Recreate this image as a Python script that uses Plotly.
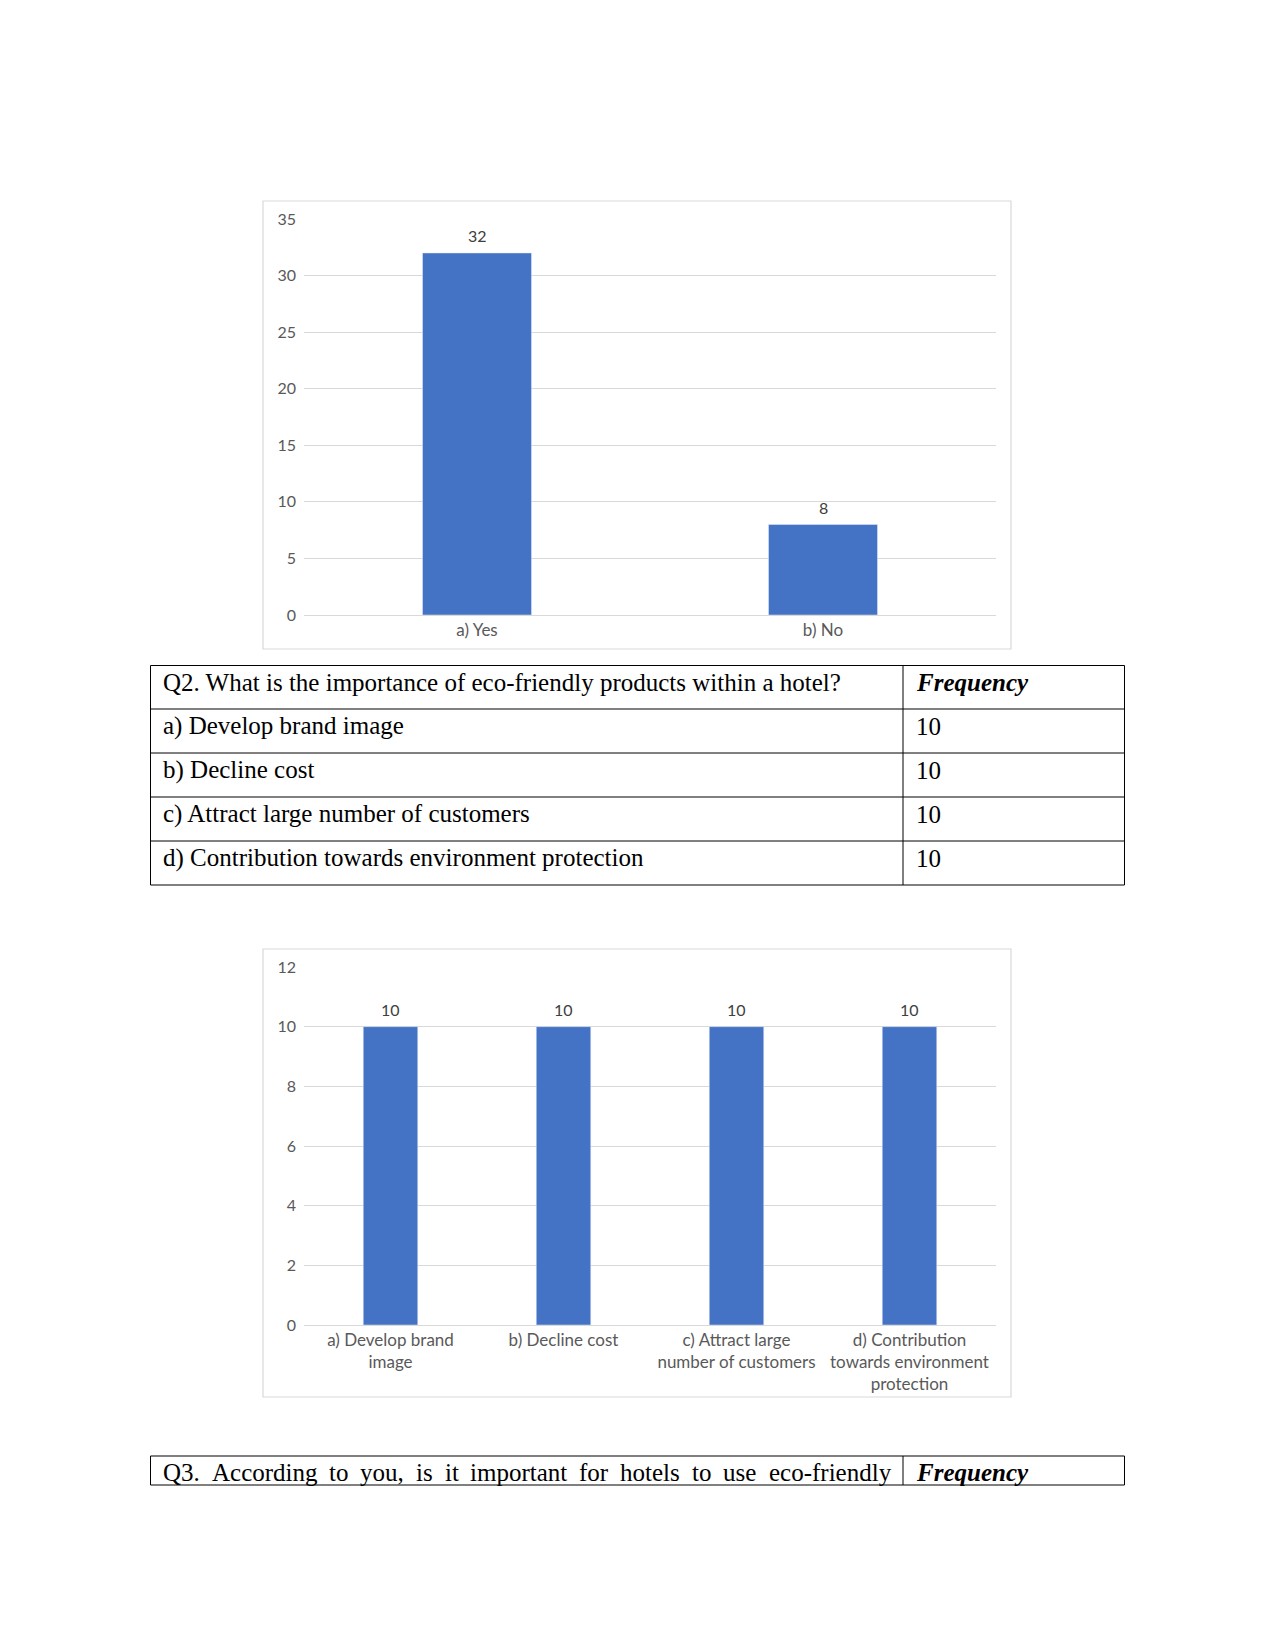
import plotly.graph_objects as go

# ---------------- data ----------------
q1_categories = ["a) Yes", "b) No"]
q1_values = [32, 8]

q2_categories = [
    "a) Develop brand<br>image",
    "b) Decline cost",
    "c) Attract large<br>number of customers",
    "d) Contribution<br>towards environment<br>protection",
]
q2_values = [10, 10, 10, 10]

q2_question = "Q2. What is the importance of eco-friendly products within a hotel?"
freq_header = "Frequency"
q2_options = [
    "a) Develop brand image",
    "b) Decline cost",
    "c) Attract large number of customers",
    "d) Contribution towards environment protection",
]
q2_freq = [10, 10, 10, 10]

q3_words = ["Q3.", "According", "to", "you,", "is", "it", "important",
            "for", "hotels", "to", "use", "eco-friendly"]

# ---------------- layout helpers ----------------
# figure kept 16px shorter than the page so the page does not overflow
W, H = 1275, 1634

def px(x):
    return x / W
def py(y):
    return 1 - y / H

BAR_COLOR = "#4472C4"
GRID = "#d9d9d9"
NUM_FONT = dict(family="Lato, Carlito, sans-serif", size=16, color="#595959")
CAT_FONT = dict(family="Lato, Carlito, sans-serif", size=17, color="#595959")
LABEL_FONT = dict(family="Lato, Carlito, sans-serif", size=16, color="#404040")
SERIF = "Liberation Serif, Times New Roman, serif"

fig = go.Figure()

fig.add_trace(go.Bar(
    x=q1_categories, y=q1_values, marker_color=BAR_COLOR,
    xaxis="x", yaxis="y", showlegend=False, hoverinfo="x+y",
))
fig.add_trace(go.Bar(
    x=q2_categories, y=q2_values, marker_color=BAR_COLOR,
    xaxis="x2", yaxis="y2", showlegend=False, hoverinfo="x+y",
))

plot_x = [px(304), px(996)]
axis_common_x = dict(type="category", showgrid=False, showline=False, ticks="",
                     tickfont=CAT_FONT, zeroline=False, fixedrange=True,
                     ticklabelstandoff=3, automargin=False)
axis_common_y = dict(showgrid=True, gridcolor=GRID, gridwidth=1, zeroline=True,
                     zerolinecolor=GRID, zerolinewidth=1, showline=False, ticks="",
                     tickfont=NUM_FONT, ticklabelstandoff=7, fixedrange=True,
                     automargin=False)

fig.update_layout(
    width=W, height=H,
    margin=dict(l=0, r=0, t=0, b=0, pad=0),
    paper_bgcolor="white", plot_bgcolor="white",
    bargap=0.685,
    xaxis=dict(domain=plot_x, anchor="y", **axis_common_x),
    yaxis=dict(domain=[py(615), py(219)], range=[0, 35], dtick=5, anchor="x", **axis_common_y),
    xaxis2=dict(domain=plot_x, anchor="y2", **axis_common_x),
    yaxis2=dict(domain=[py(1325), py(967)], range=[0, 12], dtick=2, anchor="x2", **axis_common_y),
    font=dict(family="Lato, sans-serif"),
)

shapes = []
# chart frames
for (t, b) in [(201, 649), (949, 1397)]:
    shapes.append(dict(type="rect", xref="paper", yref="paper",
                       x0=px(263), x1=px(1011), y0=py(b), y1=py(t),
                       line=dict(color=GRID, width=1.2), fillcolor="rgba(0,0,0,0)"))

# table Q2
tl, tm, tr = 150.5, 903, 1124.5
row_lines = [665.5, 709, 753, 797, 841, 885]
for y in row_lines:
    shapes.append(dict(type="line", xref="paper", yref="paper",
                       x0=px(tl), x1=px(tr), y0=py(y), y1=py(y),
                       line=dict(color="black", width=1)))
for x in [tl, tm, tr]:
    shapes.append(dict(type="line", xref="paper", yref="paper",
                       x0=px(x), x1=px(x), y0=py(row_lines[0]), y1=py(row_lines[-1]),
                       line=dict(color="black", width=1)))

# table Q3 (partial, cut at page end)
q3_top, q3_bot = 1456, 1485
for y in [q3_top, q3_bot]:
    shapes.append(dict(type="line", xref="paper", yref="paper",
                       x0=px(tl), x1=px(tr), y0=py(y), y1=py(y),
                       line=dict(color="black", width=1)))
for x in [tl, tm, tr]:
    shapes.append(dict(type="line", xref="paper", yref="paper",
                       x0=px(x), x1=px(x), y0=py(q3_top), y1=py(q3_bot),
                       line=dict(color="black", width=1)))
fig.update_layout(shapes=shapes)

annotations = []
# data labels drawn from the series values
for cats, vals, xr, yr in [(q1_categories, q1_values, "x", "y"),
                           (q2_categories, q2_values, "x2", "y2")]:
    for c, v in zip(cats, vals):
        annotations.append(dict(text=str(v), x=c, y=v, xref=xr, yref=yr,
                                yshift=17, xanchor="center", yanchor="middle",
                                showarrow=False, font=LABEL_FONT))

def cell(text, x, y):
    annotations.append(dict(text=text, xref="paper", yref="paper", x=px(x), y=py(y),
                            xanchor="left", yanchor="middle", showarrow=False,
                            font=dict(family=SERIF, size=25, color="black")))

left_texts = [q2_question] + q2_options
right_texts = ["<b><i>" + freq_header + "</i></b>"] + [str(v) for v in q2_freq]
for i in range(len(left_texts)):
    yc = row_lines[i] + 17
    cell(left_texts[i], 161, yc)
    cell(right_texts[i], 914, yc)

# justified first line of Q3 (word starts measured from the page)
q3_word_x = [162, 210.7, 328, 359.4, 415, 443.5, 469.3, 578.4, 619.4, 691, 722.4, 767.5]
for w, xs in zip(q3_words, q3_word_x):
    cell(w, xs - 1, q3_top + 16)
cell("<b><i>" + freq_header + "</i></b>", 914, q3_top + 16)

fig.update_layout(annotations=annotations)

fig.write_html("out.html")
